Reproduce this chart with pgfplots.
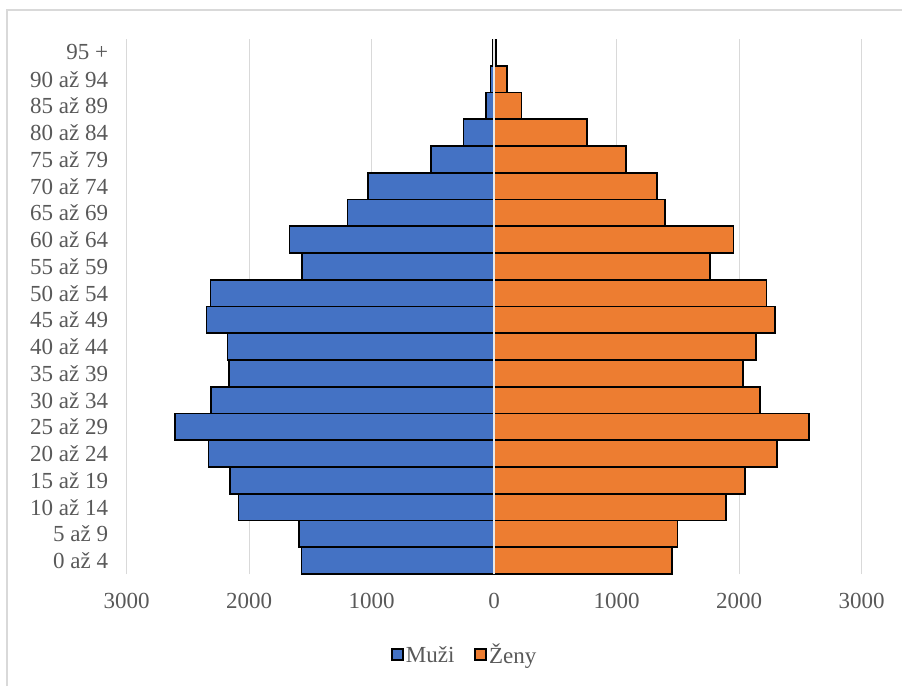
\documentclass[border=0pt]{standalone}
\usepackage{pgfplots}
\pgfplotsset{compat=1.18}
\usepackage{fontspec}
\setmainfont{Liberation Serif}
\definecolor{muzi}{HTML}{4472C4}
\definecolor{zeny}{HTML}{ED7D31}
\definecolor{txt}{HTML}{595959}
\definecolor{grd}{HTML}{D9D9D9}
\begin{document}
\begin{tikzpicture}
\useasboundingbox (-126.7pt,-112pt) rectangle (775.3pt,574pt);
\draw[grd, line width=1.4pt] (-119.7pt,-112pt) -- (-119.7pt,564pt) -- (775.3pt,564pt);
\begin{axis}[
  at={(0pt,0pt)}, anchor=south west,
  scale only axis, width=735pt, height=535pt,
  xbar, bar width=1, bar shift=0pt,
  xmin=-3000, xmax=3000, ymin=-0.5, ymax=19.5,
  xtick={-3000,-2000,...,3000},
  xticklabels={3000,2000,1000,0,1000,2000,3000},
  ytick={0,...,19},
  yticklabels={0 až 4,5 až 9,10 až 14,15 až 19,20 až 24,25 až 29,30 až 34,35 až 39,40 až 44,45 až 49,50 až 54,55 až 59,60 až 64,65 až 69,70 až 74,75 až 79,80 až 84,85 až 89,90 až 94,95 +},
  xmajorgrids, grid style={grd, line width=1.4pt},
  axis line style={draw=none}, major tick length=0pt,
  tick label style={font=\fontsize{23}{27}\selectfont, text=txt},
  /pgf/number format/assume math mode=true,
  yticklabel style={anchor=east, xshift=-15pt},
  xticklabel style={anchor=north, yshift=-16pt},
  legend style={at={(0.46,-0.151)}, anchor=center, draw=none,
    font=\fontsize{23}{27}\selectfont, text=txt, legend columns=2,
    /tikz/every even column/.append style={column sep=18pt}},
  legend image code/.code={\draw[#1, line width=1.6pt] (0pt,-5.5pt) rectangle (11pt,5.5pt);},
]
% men plotted to the left (negative), women to the right
\addplot[draw=black, line width=1.8pt, fill=muzi] coordinates {
  (-1573,0) (-1592,1) (-2087,2) (-2155,3) (-2332,4) (-2607,5) (-2310,6)
  (-2166,7) (-2177,8) (-2349,9) (-2316,10) (-1567,11) (-1671,12) (-1197,13)
  (-1031,14) (-514,15) (-250,16) (-65,17) (-30,18) (-10,19)};
\addlegendentry{Muži}
\addplot[draw=black, line width=1.8pt, fill=zeny] coordinates {
  (1453,0) (1496,1) (1891,2) (2047,3) (2308,4) (2569,5) (2171,6)
  (2030,7) (2139,8) (2294,9) (2223,10) (1763,11) (1953,12) (1393,13)
  (1328,14) (1075,15) (757,16) (223,17) (106,18) (15,19)};
\addlegendentry{Ženy}
% vertical axis line at zero, drawn over the bars
\draw[gray!18, line width=2pt] (axis cs:0,-0.5) -- (axis cs:0,19.5);
\end{axis}
\end{tikzpicture}
\end{document}
